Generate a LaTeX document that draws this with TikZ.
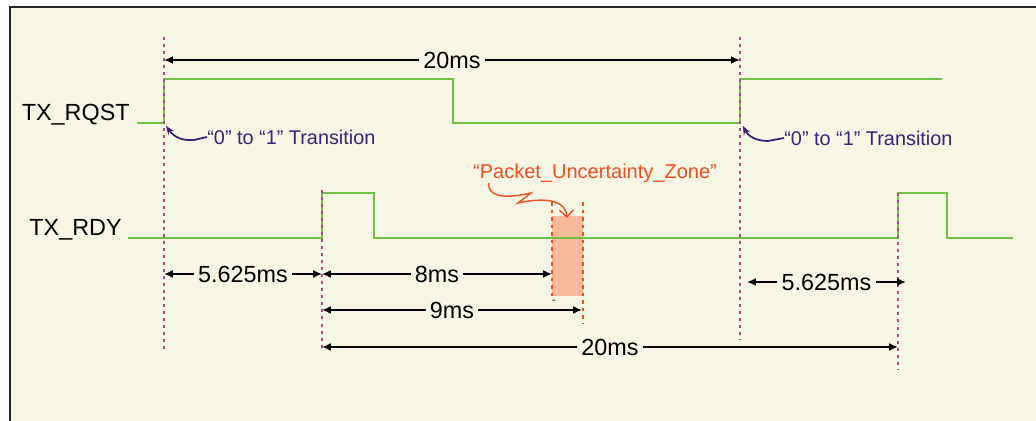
\documentclass[tikz,border=0pt]{standalone}
\usepackage{fontspec}
\setmainfont{Liberation Sans}
\usetikzlibrary{arrows.meta}
\definecolor{paper}{RGB}{247,245,228}
\definecolor{siggreen}{RGB}{110,192,70}
\definecolor{guidepurple}{RGB}{168,72,140}
\definecolor{notenavy}{RGB}{58,34,120}
\definecolor{zonered}{RGB}{240,78,35}
\definecolor{zonefill}{RGB}{247,186,152}
\tikzset{
  sig/.style={siggreen, line width=1.1pt},
  guide/.style={guidepurple, line width=0.9pt, dash pattern=on 1.7pt off 2.3pt},
  dim/.style={{Latex[length=5pt,width=4.5pt]}-{Latex[length=5pt,width=4.5pt]}, line width=1pt},
  dimtext/.style={fill=paper, inner sep=2.5pt, font=\fontsize{13.3}{16}\selectfont},
  signame/.style={anchor=east, inner sep=0pt, font=\fontsize{13.3}{16}\selectfont},
  note/.style={notenavy, anchor=west, inner sep=0pt, font=\fontsize{11.3}{14}\selectfont},
}
\begin{document}
\begin{tikzpicture}[x=0.02cm, y=-0.02cm]
\useasboundingbox (0,0) rectangle (1036,421);
\fill[white] (0,0) rectangle (1036,421);
\fill[paper] (10,7) rectangle (1036,421);
\draw[line width=1.1pt, black!85] (10,421) -- (10,7) -- (1036,7);

% uncertainty zone
\fill[zonefill] (552,216) rectangle (583,296);
\draw[zonered, line width=0.9pt, dash pattern=on 2pt off 2.3pt] (552,202) -- (552,296) (583,202) -- (583,323);

% signals
\draw[sig] (137,123) -- (164,123) -- (164,79) -- (453,79) -- (453,123) -- (740,123) -- (740,79) -- (942,79);
\draw[sig] (128,238) -- (322,238) -- (322,193) -- (374,193) -- (374,238) -- (898,238) -- (898,193) -- (947,193) -- (947,238) -- (1013,238);
\node[signame] (rqst) at (130,115) {TX\_RQST};
\node[signame] (rdy) at (122,230) {TX\_RDY};

% guides
\draw[guide] (164,37) -- (164,350);
\draw[guide] (740,37) -- (740,340);
\draw[guide] (322,190) -- (322,350);
\draw[guide] (898,193) -- (898,370);

% dimensions
\coordinate (p1a) at (164,60);  \coordinate (p1b) at (740,60);
\coordinate (d1a) at (164,274); \coordinate (d1b) at (322,274);
\coordinate (d2a) at (322,274); \coordinate (d2b) at (552,274);
\coordinate (d3a) at (322,310); \coordinate (d3b) at (582,310);
\coordinate (d4a) at (322,347); \coordinate (d4b) at (898,347);
\coordinate (d5a) at (747,282); \coordinate (d5b) at (906,282);
\draw[dim] (p1a) -- node[dimtext] (t20a) {20ms} (p1b);
\draw[dim] (d1a) -- node[dimtext] (t5a) {5.625ms} (d1b);
\draw[dim] (d2a) -- node[dimtext] (t8) {8ms} (d2b);
\draw[dim] (d3a) -- node[dimtext] (t9) {9ms} (d3b);
\draw[dim] (d4a) -- node[dimtext] (t20b) {20ms} (d4b);
\draw[dim] (d5a) -- node[dimtext] (t5b) {5.625ms} (d5b);
\node[font=\fontsize{6}{7}\selectfont, inner sep=0pt] (tick) at (554,302) {-};

% notes
\node[note] (n1) at (207,137) {“0” to “1” Transition};
\node[note] (n2) at (784,138) {“0” to “1” Transition};
\coordinate (e1) at (166,126);
\coordinate (e2) at (743,126);
\draw[notenavy, line width=1pt, -{Stealth[length=5pt,width=4pt]}] (n1.west) -- (194,140) .. controls (182,141) and (174,137) .. (e1);
\draw[notenavy, line width=1pt, -{Stealth[length=5pt,width=4pt]}] (n2.west) -- (768,141) .. controls (756,141) and (748,136) .. (e2);

\node[zonered, font=\fontsize{11.4}{14}\selectfont] (zone) at (595,173) {“Packet\_Uncertainty\_Zone”};
\coordinate (zfrom) at (489,183);
\coordinate (zto) at (567,218);
\draw[zonered, line width=0.8pt, -{Straight Barb[length=4pt]}] (zfrom) .. controls (487,197) and (506,199) .. (531,193) -- (518,203) .. controls (545,197) and (566,200) .. (zto);
\end{tikzpicture}
\end{document}
